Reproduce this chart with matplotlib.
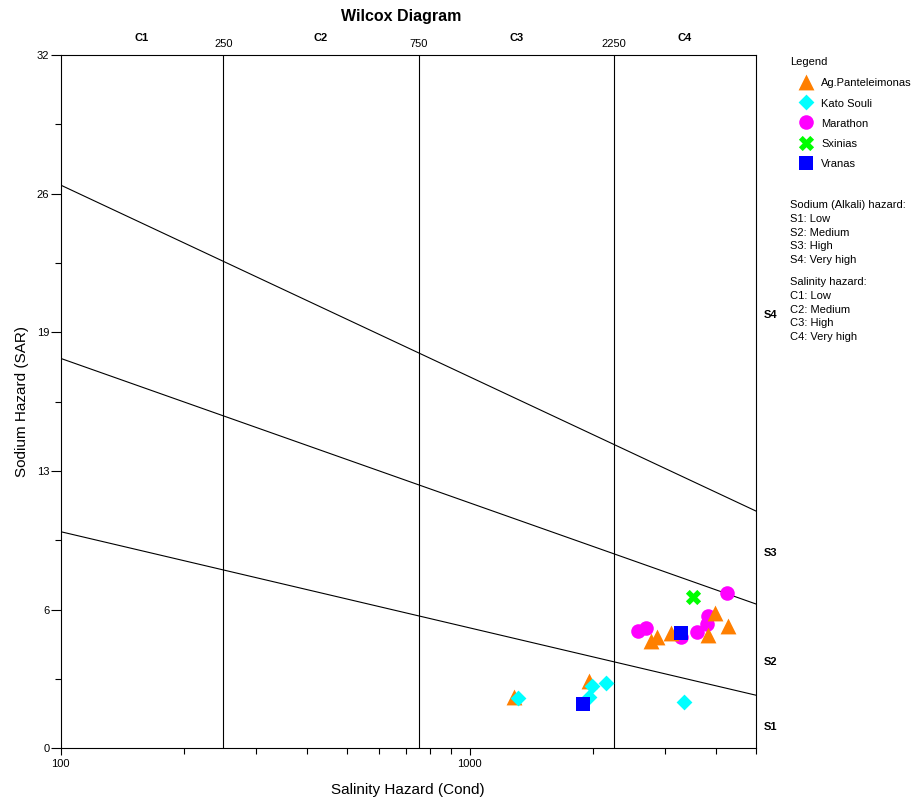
import matplotlib
matplotlib.use('Agg')
import matplotlib.pyplot as plt
from matplotlib.ticker import NullFormatter

plt.rcParams['font.family'] = ['Liberation Sans', 'DejaVu Sans']

# sample data: conductivity (x) and SAR (y)
ag_cond = [3981, 4275, 3820, 3099, 2871, 2771, 1950, 1280]
ag_sar = [6.23, 5.64, 5.23, 5.33, 5.12, 4.97, 3.12, 2.35]
kato_cond = [1986, 2148, 1957, 1309, 3327]
kato_sar = [2.87, 3.0, 2.35, 2.31, 2.15]
mar_cond = [4257, 3820, 3800, 3587, 3271, 2694, 2580]
mar_sar = [7.15, 6.1, 5.72, 5.35, 5.12, 5.54, 5.41]
sx_cond = [3504]
sx_sar = [6.97]
vr_cond = [3271, 1885]
vr_sar = [5.31, 2.03]

# class boundaries
bound_cond = [100, 5000]
s1_s2 = [10.0, 2.45]
s2_s3 = [18.0, 6.66]
s3_s4 = [26.0, 10.95]
c_bounds = [250, 750, 2250]
c_names = ['C1', 'C2', 'C3', 'C4']
c_mid = [158, 433, 1299, 3354]
s_names = ['S1', 'S2', 'S3', 'S4']
s_pos = [1.0, 4.0, 9.0, 20.0]

y_ticks = [0, 6.4, 12.8, 19.2, 25.6, 32]
y_labels = ['0', '6', '13', '19', '26', '32']
y_minor = [3.2, 9.6, 16.0, 22.4, 28.8]
x_minor = [200, 300, 400, 500, 600, 700, 800, 900, 2000, 3000, 4000, 5000]

fig = plt.figure(figsize=(9.21, 8.01), dpi=100)
ax = fig.add_axes([60.5 / 921, 1 - 748.3 / 801, 695.5 / 921, 693.3 / 801])

for s in [s1_s2, s2_s3, s3_s4]:
    ax.plot(bound_cond, s, color='black', lw=0.8, zorder=2)
for c in c_bounds:
    ax.axvline(c, color='black', lw=0.8, zorder=2)

ax.scatter(mar_cond, mar_sar, marker='o', s=110, color='#FF00FF', lw=0, zorder=3, label='Marathon')
ax.scatter(ag_cond, ag_sar, marker='^', s=130, color='#FF7F00', lw=0, zorder=4, label='Ag.Panteleimonas')
ax.scatter(kato_cond, kato_sar, marker='D', s=65, color='#00FFFF', lw=0, zorder=5, label='Kato Souli')
ax.scatter(sx_cond, sx_sar, marker='X', s=120, color='#00FF00', lw=0, zorder=5, label='Sxinias')
ax.scatter(vr_cond, vr_sar, marker='s', s=100, color='#0000FF', lw=0, zorder=6, label='Vranas')

ax.set_xscale('log')
ax.set_xlim(100, 5000)
ax.set_ylim(0, 32)
ax.set_xticks([100, 1000])
ax.set_xticklabels(['100', '1000'])
ax.set_xticks(x_minor, minor=True)
ax.xaxis.set_minor_formatter(NullFormatter())
ax.set_yticks(y_ticks)
ax.set_yticklabels(y_labels)
ax.set_yticks(y_minor, minor=True)
ax.tick_params(axis='both', which='major', labelsize=8, length=7, width=0.8)
ax.tick_params(axis='y', which='minor', length=4.5, width=0.8)
ax.tick_params(axis='x', which='major', length=5, pad=2.5)
ax.tick_params(axis='x', which='minor', length=4.5, width=0.8)
ax.tick_params(axis='y', which='major', pad=1)
for sp in ax.spines.values():
    sp.set_linewidth(0.8)

ax.set_xlabel('Salinity Hazard (Cond)', fontsize=11, labelpad=10)
ax.set_ylabel('Sodium Hazard (SAR)', fontsize=11, labelpad=6)

tx = ax.get_xaxis_transform()
for name, m in zip(c_names, c_mid):
    ax.text(m, 1.0245, name, transform=tx, ha='center', va='center', fontsize=8, fontweight='bold')
for c in c_bounds:
    ax.text(c, 1.016, str(c), transform=tx, ha='center', va='center', fontsize=8)
ty = ax.get_yaxis_transform()
for name, v in zip(s_names, s_pos):
    ax.text(1.0105, v, name, transform=ty, ha='left', va='center', fontsize=8, fontweight='bold')

fig.text(401 / 921, 1 - 17 / 801, 'Wilcox Diagram', ha='center', va='center', fontsize=11.5, fontweight='bold')

h, l = ax.get_legend_handles_labels()
order = [1, 2, 0, 3, 4]
fig.text(790 / 921, 1 - 62 / 801, 'Legend', ha='left', va='center', fontsize=8)
fig.legend([h[i] for i in order], [l[i] for i in order], loc='upper left',
           bbox_to_anchor=(798 / 921, 1 - 77 / 801), frameon=False, fontsize=8,
           borderpad=0, handlelength=1.5, handleheight=1.2, handletextpad=0.6,
           labelspacing=0.78, borderaxespad=0)

fig.text(790 / 921, 1 - 200 / 801,
         'Sodium (Alkali) hazard:\nS1: Low\nS2: Medium\nS3: High\nS4: Very high',
         ha='left', va='top', fontsize=8, linespacing=1.47)
fig.text(790 / 921, 1 - 277 / 801,
         'Salinity hazard:\nC1: Low\nC2: Medium\nC3: High\nC4: Very high',
         ha='left', va='top', fontsize=8, linespacing=1.47)

fig.savefig('out.png', dpi=100)
